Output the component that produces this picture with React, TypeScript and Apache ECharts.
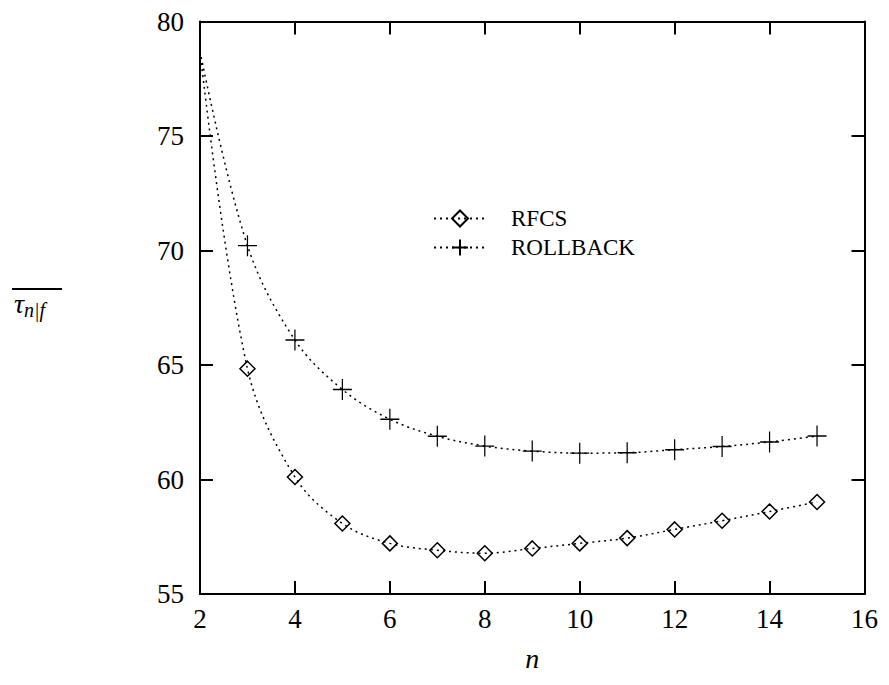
import React, { useEffect, useRef } from "react";
import * as echarts from "echarts";

const nValues = [2, 3, 4, 5, 6, 7, 8, 9, 10, 11, 12, 13, 14, 15];
const rfcs = [78.7, 64.84, 60.11, 58.08, 57.21, 56.91, 56.78, 56.99, 57.21, 57.44, 57.82, 58.2, 58.6, 59.02];
const rollback = [78.7, 70.21, 66.09, 63.93, 62.63, 61.89, 61.46, 61.24, 61.15, 61.17, 61.3, 61.44, 61.64, 61.9];
const seriesNames = ["RFCS", "ROLLBACK"];
const xTicks = { min: 2, max: 16, interval: 2 };
const yTicks = { min: 55, max: 80, interval: 5 };

const FONT = "'Liberation Serif', 'DejaVu Serif', serif";
const DIAMOND = "path://M0,-10 L10,0 L0,10 L-10,0 Z";
const PLUS = "path://M-10,0 L10,0 M0,-11 L0,11";

export default function App() {
  const ref = useRef<HTMLDivElement>(null);
  useEffect(() => {
    if (!ref.current) return;
    const chart = echarts.init(ref.current, null, { renderer: "svg" });
    const mk = (vals: number[]) =>
      vals.map((v, i) => (i === 0 ? { value: [nValues[i], v], symbol: "none" } : [nValues[i], v]));
    const lineStyle = { color: "#000", width: 1.5, type: [2, 4] as any };
    chart.setOption({
      animation: false,
      backgroundColor: "#fff",
      grid: { left: 192, right: 9, top: 11, bottom: 81 },
      legend: {
        orient: "vertical",
        left: 420,
        top: 194,
        itemWidth: 52,
        itemHeight: 20,
        itemGap: 6,
        textStyle: { fontFamily: FONT, fontSize: 23, color: "#000", padding: [0, 0, 0, 20] },
        data: seriesNames,
      },
      xAxis: [
        {
          type: "value",
          min: xTicks.min,
          max: xTicks.max,
          interval: xTicks.interval,
          name: "n",
          nameLocation: "middle",
          nameGap: 50,
          nameTextStyle: { fontFamily: FONT, fontStyle: "italic", fontSize: 28, color: "#000" },
          axisLine: { lineStyle: { color: "#000", width: 2 } },
          axisTick: { inside: true, length: 13, lineStyle: { color: "#000", width: 2 } },
          axisLabel: { fontFamily: FONT, fontSize: 27, color: "#000", margin: 11 },
          splitLine: { show: false },
        },
        {
          type: "value",
          position: "top",
          min: xTicks.min,
          max: xTicks.max,
          interval: xTicks.interval,
          axisLine: { lineStyle: { color: "#000", width: 2 } },
          axisTick: { inside: true, length: 13, lineStyle: { color: "#000", width: 2 } },
          axisLabel: { show: false },
          splitLine: { show: false },
        },
      ],
      yAxis: [
        {
          type: "value",
          min: yTicks.min,
          max: yTicks.max,
          interval: yTicks.interval,
          axisLine: { show: true, lineStyle: { color: "#000", width: 2 } },
          axisTick: { show: true, inside: true, length: 13, lineStyle: { color: "#000", width: 2 } },
          axisLabel: { fontFamily: FONT, fontSize: 27, color: "#000", margin: 16 },
          splitLine: { show: false },
        },
        {
          type: "value",
          position: "right",
          min: yTicks.min,
          max: yTicks.max,
          interval: yTicks.interval,
          axisLine: { show: true, lineStyle: { color: "#000", width: 2 } },
          axisTick: { show: true, inside: true, length: 13, lineStyle: { color: "#000", width: 2 } },
          axisLabel: { show: false },
          splitLine: { show: false },
        },
      ],
      series: [
        {
          name: seriesNames[0],
          type: "line",
          data: mk(rfcs),
          smooth: 0.35,
          symbol: DIAMOND,
          symbolSize: 15,
          showAllSymbol: true,
          lineStyle,
          itemStyle: { color: "rgba(0,0,0,0)", borderColor: "#000", borderWidth: 1.5 },
        },
        {
          name: seriesNames[1],
          type: "line",
          data: mk(rollback),
          smooth: 0.35,
          symbol: PLUS,
          symbolSize: [19, 21],
          showAllSymbol: true,
          lineStyle,
          itemStyle: { color: "rgba(0,0,0,0)", borderColor: "#000", borderWidth: 1.3 },
        },
      ],
      graphic: [
        {
          type: "text",
          left: 6,
          top: 281,
          style: {
            text: "{t|τ}{s|n|f}",
            rich: {
              t: { fontFamily: FONT, fontStyle: "italic", fontSize: 28, fill: "#000" },
              s: { fontFamily: FONT, fontStyle: "italic", fontSize: 20, fill: "#000", padding: [14, 0, 0, 0] },
            },
          },
        },
        {
          type: "line",
          shape: { x1: 4, y1: 281, x2: 54, y2: 281 },
          style: { stroke: "#000", lineWidth: 2 },
        },
      ],
    });
    return () => chart.dispose();
  }, []);
  return <div ref={ref} style={{ width: 873, height: 669 }} />;
}
